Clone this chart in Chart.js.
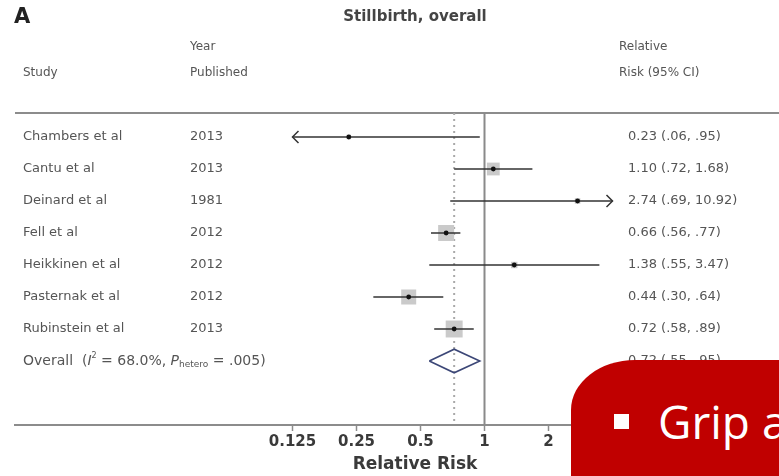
<!DOCTYPE html>
<html>
<head>
<meta charset="utf-8">
<title>Stillbirth, overall</title>
<script src="https://cdn.jsdelivr.net/npm/chart.js@4.4.1/dist/chart.umd.min.js"></script>
<style>
  html, body { margin: 0; padding: 0; background: #fff; overflow: hidden; }
  #wrap { position: relative; width: 779px; height: 476px; overflow: hidden; }
  #forest { display: block; }
  #callout {
    position: absolute; left: 571px; top: 360px; width: 400px; height: 200px;
    background: #c00000; border-top-left-radius: 64px 50px;
  }
  #callout .bullet { position: absolute; left: 43px; top: 54px; width: 15px; height: 15px; background: #fff; }
  #callout .txt {
    position: absolute; left: 87px; top: 38px; white-space: nowrap;
    font: 46px/1 "Open Sans", sans-serif; color: #fff;
  }
</style>
</head>
<body>
<div id="wrap">
  <canvas id="forest" width="779" height="476"></canvas>
  <div id="callout"><span class="bullet"></span><span class="txt">Grip a</span></div>
</div>
<script>
  // ---- data ----
  const panelLetter = 'A';
  const chartTitle = 'Stillbirth, overall';
  const axisTitle = 'Relative Risk';
  const studies = ['Chambers et al', 'Cantu et al', 'Deinard et al', 'Fell et al', 'Heikkinen et al', 'Pasternak et al', 'Rubinstein et al'];
  const years = ['2013', '2013', '1981', '2012', '2012', '2012', '2013'];
  const rr = [0.23, 1.10, 2.74, 0.66, 1.38, 0.44, 0.72];
  const ciLow = [0.06, 0.72, 0.69, 0.56, 0.55, 0.30, 0.58];
  const ciHigh = [0.95, 1.68, 10.92, 0.77, 3.47, 0.64, 0.89];
  const weights = [2, 16, 3, 25, 4, 22, 28]; // % weight, drives the grey square area
  const overallRR = 0.72;
  const overallLow = 0.55;
  const overallHigh = 0.95;
  const i2Text = '68.0%';
  const pHeteroText = '.005';
  const xTicks = [0.125, 0.25, 0.5, 1, 2, 4];
  const axisLimits = [0.125, 4]; // CIs beyond these get an arrow

  // ---- style ----
  const FONT = '"DejaVu Sans", "Liberation Sans", sans-serif';
  const TEXT = '#555';
  const AXIS = '#8c8c8c';
  const OVERALL_ROW = studies.length;
  const DIAMOND_H = 0.37; // half height in row units

  // scale range chosen so that 1 sits at x=484 and each doubling spans 64px
  const X_MIN = Math.pow(2, (15 - 484.5) / 64);
  const X_MAX = Math.pow(2, (779 - 484.5) / 64);

  const fmt = v => v < 1 ? v.toFixed(2).replace(/^0/, '') : v.toFixed(2);
  const rrLabel = (r, lo, hi) => r.toFixed(2) + ' (' + fmt(lo) + ', ' + fmt(hi) + ')';

  const rows = rr.map((v, i) => ({ x: v, y: i }));

  const datasets = [];
  // reference lines
  datasets.push({
    type: 'line', data: [{ x: 1, y: -0.75 }, { x: 1, y: 9 }],
    borderColor: '#8a8a8a', borderWidth: 2, pointRadius: 0, order: 20
  });
  datasets.push({
    type: 'line', data: [{ x: overallRR, y: -0.75 }, { x: overallRR, y: 9 }],
    borderColor: '#a9a9a9', borderWidth: 2, borderDash: [2, 4], pointRadius: 0, order: 19
  });
  // weight squares
  datasets.push({
    type: 'scatter', data: rows, pointStyle: 'rect',
    pointRadius: weights.map(w => 3.2 * Math.sqrt(w) / 1.414),
    backgroundColor: '#cacaca', borderWidth: 0, order: 10
  });
  // confidence intervals
  studies.forEach((s, i) => {
    datasets.push({
      type: 'line',
      data: [{ x: Math.max(ciLow[i], axisLimits[0]), y: i }, { x: Math.min(ciHigh[i], axisLimits[1]), y: i }],
      borderColor: '#333', borderWidth: 1.5, pointRadius: 0, order: 5
    });
  });
  // point estimates
  datasets.push({
    type: 'scatter', data: rows, pointStyle: 'circle', pointRadius: 2.4,
    backgroundColor: '#111', borderWidth: 0, order: 1
  });
  // overall diamond
  datasets.push({
    type: 'line',
    data: [
      { x: overallLow, y: OVERALL_ROW }, { x: overallRR, y: OVERALL_ROW - DIAMOND_H },
      { x: overallHigh, y: OVERALL_ROW }, { x: overallRR, y: OVERALL_ROW + DIAMOND_H },
      { x: overallLow, y: OVERALL_ROW }
    ],
    borderColor: '#3c4777', borderWidth: 1.6, pointRadius: 0, tension: 0, order: 2
  });

  const forestPlugin = {
    id: 'forestDecor',
    beforeDatasetsDraw(chart) {
      const { ctx, chartArea } = chart;
      ctx.save();
      ctx.strokeStyle = AXIS;
      ctx.lineWidth = 2;
      ctx.beginPath();
      ctx.moveTo(chartArea.left, chartArea.top);
      ctx.lineTo(chartArea.right, chartArea.top);
      ctx.stroke();
      ctx.restore();
    },
    afterDatasetsDraw(chart) {
      const { ctx } = chart;
      const xs = chart.scales.x, ys = chart.scales.y;
      ctx.save();
      ctx.strokeStyle = '#333';
      ctx.lineWidth = 1.5;
      studies.forEach((s, i) => {
        const py = ys.getPixelForValue(i);
        if (ciLow[i] < axisLimits[0]) {
          const px = xs.getPixelForValue(axisLimits[0]);
          ctx.beginPath();
          ctx.moveTo(px + 6, py - 6); ctx.lineTo(px, py); ctx.lineTo(px + 6, py + 6);
          ctx.stroke();
        }
        if (ciHigh[i] > axisLimits[1]) {
          const px = xs.getPixelForValue(axisLimits[1]);
          ctx.beginPath();
          ctx.moveTo(px - 6, py - 6); ctx.lineTo(px, py); ctx.lineTo(px - 6, py + 6);
          ctx.stroke();
        }
      });
      ctx.restore();
    },
    afterDraw(chart) {
      const { ctx } = chart;
      const ys = chart.scales.y;
      ctx.save();
      ctx.textBaseline = 'middle';
      ctx.textAlign = 'left';

      ctx.fillStyle = '#222';
      ctx.font = 'bold 21px ' + FONT;
      ctx.fillText(panelLetter, 14, 18);
      ctx.font = 'bold 15px ' + FONT;
      ctx.fillStyle = '#444';
      ctx.textAlign = 'center';
      ctx.fillText(chartTitle, 415, 17);
      ctx.fillStyle = '#3a3a3a';
      ctx.font = 'bold 17px ' + FONT;
      ctx.fillText(axisTitle, 415, 465);
      ctx.textAlign = 'left';

      ctx.fillStyle = TEXT;
      ctx.font = '12px ' + FONT;
      ctx.fillText('Year', 190, 47);
      ctx.fillText('Relative', 619, 47);
      ctx.fillText('Study', 23, 73);
      ctx.fillText('Published', 190, 73);
      ctx.fillText('Risk (95% CI)', 619, 73);

      ctx.font = '13px ' + FONT;
      studies.forEach((s, i) => {
        const py = ys.getPixelForValue(i);
        ctx.fillText(s, 23, py);
        ctx.fillText(years[i], 190, py);
        ctx.fillText(rrLabel(rr[i], ciLow[i], ciHigh[i]), 628, py);
      });

      // overall row: I² superscript, P with "hetero" subscript
      const py = ys.getPixelForValue(OVERALL_ROW);
      const parts = [
        { t: 'Overall  (', f: '14px ' + FONT, dy: 0 },
        { t: 'I', f: 'italic 14px ' + FONT, dy: 0 },
        { t: '2', f: '8px ' + FONT, dy: -5 },
        { t: ' = ' + i2Text + ', ', f: '14px ' + FONT, dy: 0 },
        { t: 'P', f: 'italic 14px ' + FONT, dy: 0 },
        { t: 'hetero', f: '9px ' + FONT, dy: 4 },
        { t: ' = ' + pHeteroText + ')', f: '14px ' + FONT, dy: 0 }
      ];
      let px = 23;
      parts.forEach(p => {
        ctx.font = p.f;
        ctx.fillText(p.t, px, py + p.dy);
        px += ctx.measureText(p.t).width;
      });
      ctx.font = '13px ' + FONT;
      ctx.fillText(rrLabel(overallRR, overallLow, overallHigh), 628, py);
      ctx.restore();
    }
  };

  new Chart(document.getElementById('forest').getContext('2d'), {
    data: { datasets: datasets },
    options: {
      responsive: false,
      animation: false,
      devicePixelRatio: 1,
      layout: { autoPadding: false, padding: { left: 15, right: 0, top: 113, bottom: 0 } },
      plugins: { legend: { display: false }, tooltip: { enabled: false } },
      scales: {
        x: {
          type: 'logarithmic', position: 'bottom', min: X_MIN, max: X_MAX,
          afterBuildTicks: s => { s.ticks = xTicks.map(v => ({ value: v })); },
          afterFit: s => { s.height = 51; s.paddingLeft = 0; s.paddingRight = 0; },
          border: { display: true, color: AXIS, width: 2 },
          grid: { display: true, drawOnChartArea: false, drawTicks: true, tickLength: 6, tickWidth: 1.5, tickColor: AXIS },
          ticks: {
            autoSkip: false, maxRotation: 0, padding: 2, color: '#3a3a3a',
            font: { family: FONT, size: 15, weight: 'bold' },
            callback: v => String(v)
          },
          title: { display: false }
        },
        y: { type: 'linear', display: false, reverse: true, min: -0.75, max: 9 }
      }
    },
    plugins: [forestPlugin]
  });
</script>
</body>
</html>
